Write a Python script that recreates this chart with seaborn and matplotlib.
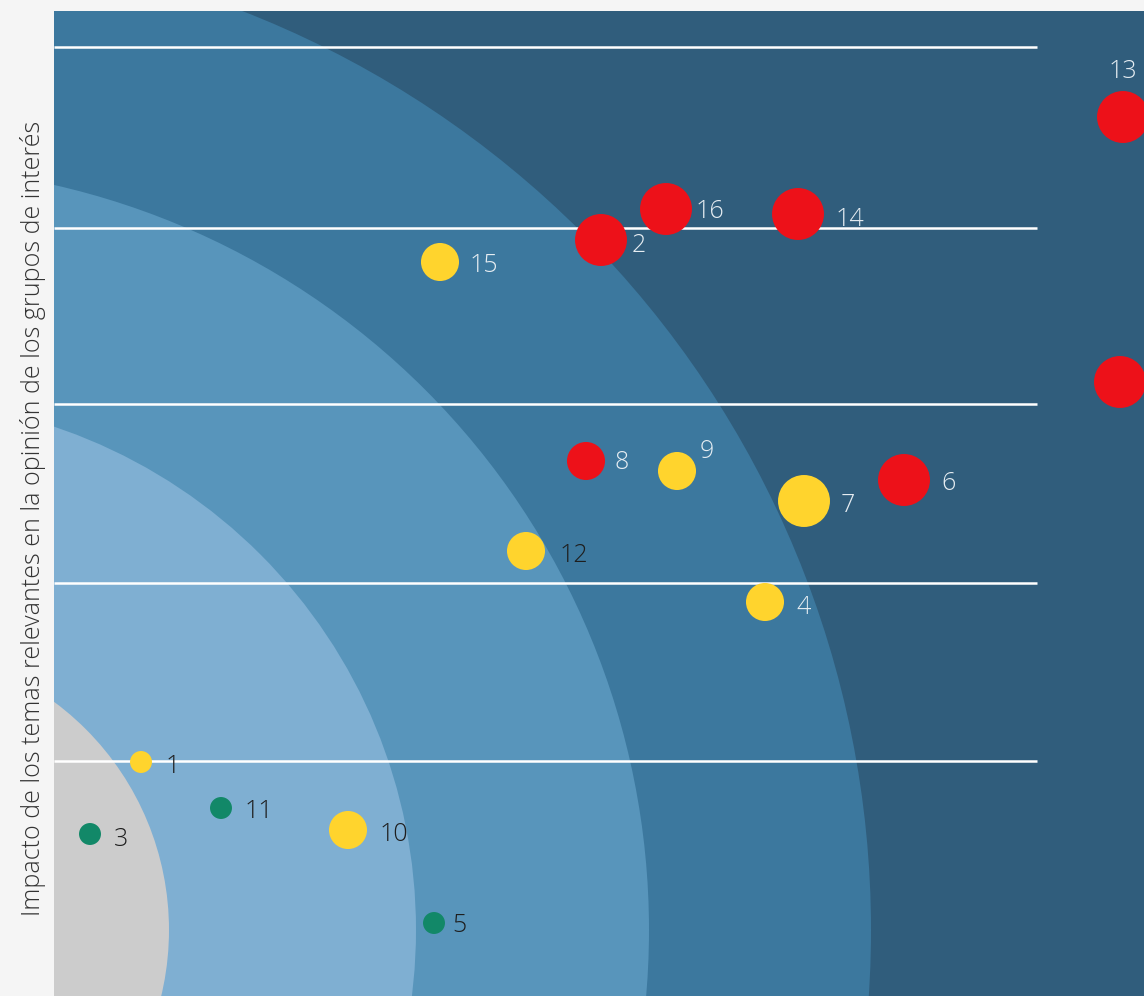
import pandas as pd
import matplotlib
matplotlib.use("Agg")
import matplotlib.pyplot as plt
import seaborn as sns
from matplotlib.patches import Circle

# temas de la matriz: numero, posicion, nivel y tamano del punto
temas = ["1", "3", "11", "10", "5", "12", "4", "8", "9", "7", "6", "15", "2", "16", "14", "13", ""]
eje_x = [0.87, 0.36, 1.67, 2.94, 3.80, 4.72, 7.11, 5.32, 6.23, 7.50, 8.50, 3.86, 5.47, 6.12, 7.44, 10.69, 10.66]
eje_y = [2.34, 1.62, 1.88, 1.66, 0.73, 4.45, 3.94, 5.35, 5.25, 4.95, 5.16, 7.34, 7.56, 7.87, 7.82, 8.79, 6.14]
nivel = ["medio", "bajo", "bajo", "medio", "bajo", "medio", "medio", "alto", "medio", "medio",
         "alto", "medio", "alto", "alto", "alto", "alto", "alto"]
tamano = ["chico", "chico", "chico", "mediano", "chico", "mediano", "mediano", "mediano", "mediano",
          "grande", "grande", "mediano", "grande", "grande", "grande", "grande", "grande"]

# anillos de fondo y lineas horizontales
radios = [9.86, 7.64, 5.31, 2.84]
colores_anillo = ["#3c789e", "#5895bb", "#7fafd2", "#cccccc"]
lineas_y = [9.495, 7.675, 5.92, 4.13, 2.35]

df = pd.DataFrame({"tema": temas, "x": eje_x, "y": eje_y, "nivel": nivel, "tamano": tamano})

fig = plt.figure(figsize=(11.44, 9.96), dpi=100)
fig.patch.set_facecolor("#f5f5f5")
ax = fig.add_axes([54 / 1144, 0, 1090 / 1144, 985 / 996])
ax.set_facecolor("#305d7c")

centro = (-1.69, 0.66)
for r, c in zip(radios, colores_anillo):
    ax.add_patch(Circle(centro, r, facecolor=c, edgecolor="none", zorder=1))

for yl in lineas_y:
    ax.plot([0, 9.83], [yl, yl], color="white", lw=1.8, zorder=2, solid_capstyle="butt")

sns.scatterplot(data=df, x="x", y="y", hue="nivel", size="tamano",
                palette={"alto": "#ed1119", "medio": "#ffd42d", "bajo": "#128868"},
                sizes={"chico": 250, "mediano": 750, "grande": 1400},
                linewidth=0, legend=False, zorder=3, ax=ax)

# desplazamiento de las etiquetas (pixeles) respecto al punto
offsets = {"1": (25, 4), "3": (24, 5), "11": (24, 3), "10": (32, 4), "5": (18, 2),
           "12": (34, 4), "4": (31, 5), "8": (29, 1), "9": (23, -20), "7": (37, 4),
           "6": (37, 3), "15": (30, 4), "2": (31, 5), "16": (30, 2), "14": (38, 6)}
oscuras = ["1", "3", "11", "10", "5", "12"]

for _, row in df.iterrows():
    t = row["tema"]
    if t == "":
        continue
    col = "#1e1e1e" if t in oscuras else "#e6edf2"
    if t == "13":
        ax.annotate(t, (row["x"], row["y"]), xytext=(0, 46), textcoords="offset pixels",
                    ha="center", va="center", fontsize=18, color=col,
                    family="Open Sans", fontweight="light", zorder=4)
    else:
        dx, dy = offsets[t]
        ax.annotate(t, (row["x"], row["y"]), xytext=(dx, -dy), textcoords="offset pixels",
                    ha="left", va="center", fontsize=18, color=col,
                    family="Open Sans", fontweight="light", zorder=4)

ax.set_xlim(0, 10.9)
ax.set_ylim(0, 9.85)
ax.set_xticks([])
ax.set_yticks([])
ax.set_xlabel("")
ax.set_ylabel("")
for s in ax.spines.values():
    s.set_visible(False)

fig.text(33 / 1144, 1 - 518 / 996,
         "Impacto de los temas relevantes en la opinión de los grupos de interés",
         rotation=90, ha="center", va="center", fontsize=18, color="#333333",
         family="Open Sans", fontweight="light")

fig.savefig("out.png", dpi=100, facecolor=fig.get_facecolor())
